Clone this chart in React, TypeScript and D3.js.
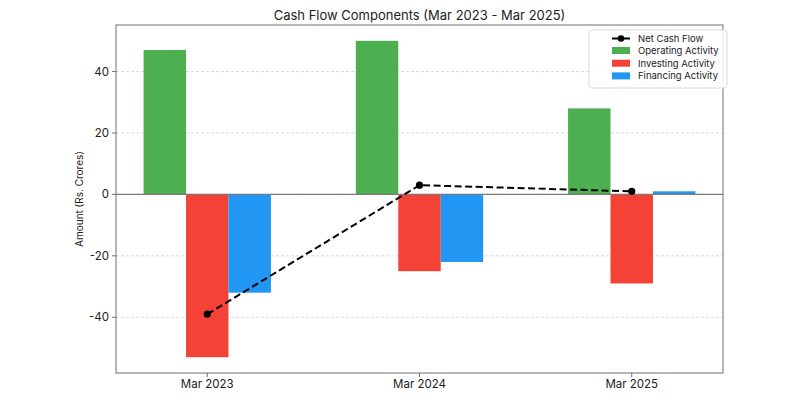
import React from "react";
import * as d3 from "d3";

// fiscal year-end periods
const periods = ["Mar 2023", "Mar 2024", "Mar 2025"];

// cash flow components, Rs. Crores
const operating = [47, 50, 28];
const investing = [-53, -25, -29];
const financing = [-32, -22, 1];
const netCashFlow = [-39, 3, 1];

const yTicks = [-40, -20, 0, 20, 40];

const series = [
  { name: "Operating Activity", values: operating, color: "#4CAF50", offset: -0.2 },
  { name: "Investing Activity", values: investing, color: "#F44336", offset: 0 },
  { name: "Financing Activity", values: financing, color: "#2196F3", offset: 0.2 },
];

const FONT = "Inter, 'Open Sans', sans-serif";

export default function App() {
  const width = 800;
  const height = 400;
  const margin = { top: 25, right: 77, bottom: 27, left: 116 };
  const barWidth = 0.2;

  const x = d3.scaleLinear()
    .domain([-0.43, 2.43])
    .range([margin.left, width - margin.right]);

  const y = d3.scaleLinear()
    .domain([-58.15, 55.15])
    .range([height - margin.bottom, margin.top]);

  const line = d3.line<number>()
    .x((_, i) => x(i))
    .y(d => y(d));

  const legendX = 589;
  const legendY = 30;

  return (
    <svg width={width} height={height} style={{ position: "absolute", left: 0, top: 0, background: "#fff" }}
      fontFamily={FONT}>
      {/* grid */}
      {yTicks.map(t => (
        <line key={t} x1={margin.left} x2={width - margin.right} y1={y(t)} y2={y(t)}
          stroke="#cfcfcf" strokeWidth={0.8} strokeDasharray="3,2" />
      ))}

      {/* bars */}
      {series.map(s => s.values.map((v, i) => (
        <rect key={s.name + i}
          x={x(i + s.offset - barWidth / 2)}
          width={x(barWidth) - x(0)}
          y={y(Math.max(0, v))}
          height={Math.abs(y(v) - y(0))}
          fill={s.color} />
      )))}

      {/* zero line */}
      <line x1={margin.left} x2={width - margin.right} y1={y(0)} y2={y(0)} stroke="#7a7a7a" strokeWidth={1.2} />

      {/* net cash flow */}
      <path d={line(netCashFlow) || ""} fill="none" stroke="#000" strokeWidth={2} strokeDasharray="7,3.5" />
      {netCashFlow.map((v, i) => (
        <circle key={i} cx={x(i)} cy={y(v)} r={3.6} fill="#000" />
      ))}

      {/* frame */}
      <rect x={margin.left} y={margin.top} width={width - margin.left - margin.right}
        height={height - margin.top - margin.bottom} fill="none" stroke="#6f6f6f" strokeWidth={1} />

      {/* y axis */}
      {yTicks.map(t => (
        <g key={t} transform={`translate(${margin.left},${y(t)})`}>
          <line x2={-4} stroke="#6f6f6f" />
          <text x={-7} dy="0.35em" textAnchor="end" fontSize={11.5} fill="#222">{t}</text>
        </g>
      ))}
      <text transform={`translate(83,${(margin.top + height - margin.bottom) / 2}) rotate(-90)`}
        textAnchor="middle" fontSize={10} fill="#222">Amount (Rs. Crores)</text>

      {/* x axis */}
      {periods.map((p, i) => (
        <g key={p} transform={`translate(${x(i)},${height - margin.bottom})`}>
          <line y2={4} stroke="#6f6f6f" />
          <text y={11} dy="0.35em" textAnchor="middle" fontSize={11.5} fill="#222">{p}</text>
        </g>
      ))}

      {/* title */}
      <text x={(margin.left + width - margin.right) / 2} y={19.5} textAnchor="middle" fontSize={13} fill="#222">
        Cash Flow Components (Mar 2023 - Mar 2025)
      </text>

      {/* legend */}
      <g transform={`translate(${legendX},${legendY})`} fontSize={9.5} fill="#222">
        <rect width={138} height={58} rx={2.5} fill="#fff" fillOpacity={0.85} stroke="#d8d8d8" />
        <line x1={23} x2={41} y1={8.5} y2={8.5} stroke="#000" strokeWidth={2} />
        <circle cx={32} cy={8.5} r={3.3} fill="#000" />
        <text x={49} y={8.5} dy="0.35em">Net Cash Flow</text>
        {series.map((s, i) => (
          <g key={s.name} transform={`translate(0,${20.5 + i * 12.7})`}>
            <rect x={23} y={-3.5} width={18} height={7} fill={s.color} />
            <text x={49} dy="0.35em">{s.name}</text>
          </g>
        ))}
      </g>
    </svg>
  );
}
